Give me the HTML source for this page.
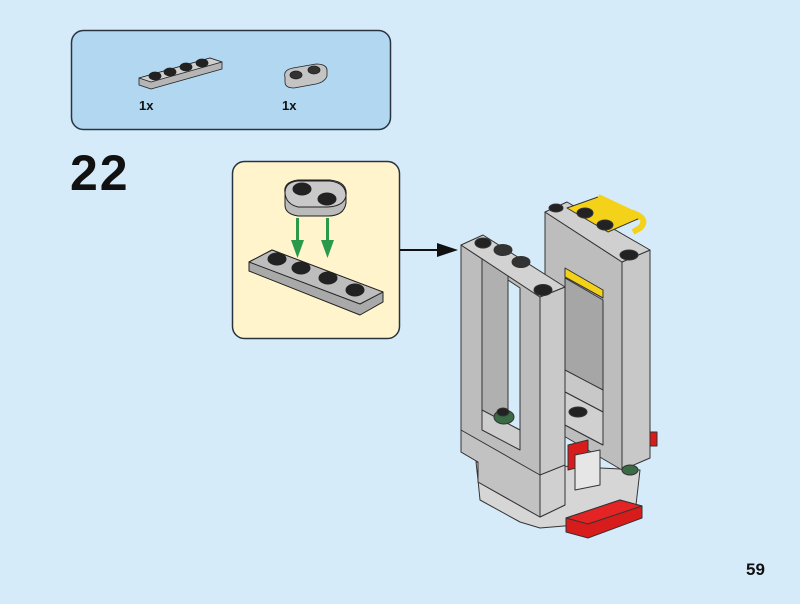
<!DOCTYPE html>
<html><head><meta charset="utf-8"><style>
html,body{margin:0;padding:0;background:#d6ebfa;}
svg{display:block}
text{font-family:"Liberation Sans",sans-serif;font-weight:bold;fill:#111}
</style></head><body>
<svg width="800" height="604" viewBox="0 0 800 604" xmlns="http://www.w3.org/2000/svg" stroke-linejoin="round">
<rect width="800" height="604" fill="#d6ebfa"/>
<!-- parts box -->
<rect x="71.5" y="30.5" width="319" height="99" rx="12" fill="#b2d7f1" stroke="#2a3440" stroke-width="1.5"/>
<g stroke="#222" stroke-width="0.8">
<polygon points="139,78 210,58 222,62 222,69 151,89 139,85" fill="#b5b5b5"/>
<polygon points="139,78 210,58 222,62 151,82" fill="#cfcfcf"/>
<g fill="#222"><ellipse cx="155" cy="76" rx="6" ry="4"/><ellipse cx="170" cy="72" rx="6" ry="4"/><ellipse cx="186" cy="67" rx="6" ry="4"/><ellipse cx="202" cy="63" rx="6" ry="4"/></g>
<path d="M285,77 Q283,70 293,68 L316,64 Q328,64 327,72 L327,76 Q325,82 316,84 L294,88 Q285,88 285,82 Z" fill="#c4c4c4"/>
<g fill="#333"><ellipse cx="296" cy="75" rx="6" ry="4"/><ellipse cx="314" cy="70" rx="6" ry="4"/></g>
</g>
<text x="139" y="110" font-size="13">1x</text>
<text x="282" y="110" font-size="13">1x</text>
<text x="70" y="190" font-size="50" letter-spacing="2">22</text>
<!-- callout -->
<rect x="232.5" y="161.5" width="167" height="177" rx="12" fill="#fff4cc" stroke="#2a3440" stroke-width="1.5"/>
<line x1="400" y1="250" x2="440" y2="250" stroke="#111" stroke-width="2"/>
<polygon points="437,243 458,250 437,257" fill="#111"/>
<g stroke="#222" stroke-width="1">
<path d="M285,193 Q283,182 298,180 L330,180 Q348,182 346,196 L346,203 Q344,216 328,216 L298,216 Q285,214 285,205 Z" fill="#bbb"/>
<path d="M285,193 Q285,182 298,181 L330,181 Q346,183 346,196 Q344,206 328,207 L298,207 Q286,204 285,193 Z" fill="#c9c9c9"/>
<g fill="#222"><ellipse cx="302" cy="189" rx="9" ry="6"/><ellipse cx="327" cy="199" rx="9" ry="6"/></g>
<polygon points="249,262 272,250 383,292 383,302 360,315 249,271" fill="#a9a9a9"/>
<polygon points="249,262 272,250 383,292 360,304" fill="#bdbdbd"/>
<g fill="#222"><ellipse cx="277" cy="259" rx="9" ry="6"/><ellipse cx="301" cy="268" rx="9" ry="6"/><ellipse cx="328" cy="278" rx="9" ry="6"/><ellipse cx="355" cy="290" rx="9" ry="6"/></g>
</g>
<g fill="#2a9a4a"><rect x="296" y="218" width="3" height="30"/><polygon points="291,240 304,240 297.5,258"/>
<rect x="326" y="218" width="3" height="30"/><polygon points="321,240 334,240 327.5,258"/></g>
<!-- main model -->
<g stroke="#333" stroke-width="1">
<polygon points="476,462 640,470 636,505 612,522 540,528 520,522 480,500 478,480" fill="#d6d6d6"/>
<rect x="645" y="432" width="12" height="14" fill="#d81b1b"/>
<polygon points="545,212 622,262 622,470 545,425" fill="#bdbdbd"/>
<polygon points="565,278 603,300 603,445 565,425" fill="#a6a6a6"/>
<polygon points="565,268 603,290 603,298 565,277" fill="#f5d21a"/>
<polygon points="565,370 603,390 603,412 565,392" fill="#c8c8c8"/>
<polygon points="565,392 603,412 603,445 565,425" fill="#d0d0d0"/>
<ellipse cx="578" cy="412" rx="9" ry="5" fill="#222"/>
<polygon points="622,262 650,250 650,458 622,470" fill="#c8c8c8"/>
<polygon points="545,212 567,202 650,250 622,262" fill="#d0d0d0"/>
<polygon points="567,208 598,197 640,218 608,232" fill="#f5d21a"/>
<path d="M598,197 L630,212 Q650,218 640,228 L633,232" fill="none" stroke="#f5d21a" stroke-width="6"/>
<ellipse cx="585" cy="213" rx="8" ry="5" fill="#222"/>
<ellipse cx="605" cy="225" rx="8" ry="5" fill="#222"/>
<ellipse cx="629" cy="255" rx="9" ry="5" fill="#222"/>
<ellipse cx="556" cy="208" rx="7" ry="4" fill="#222"/>
<polygon points="568,445 588,440 588,465 568,470" fill="#d81b1b"/>
<polygon points="575,455 600,450 600,485 575,490" fill="#e6e6e6"/>
<ellipse cx="630" cy="470" rx="8" ry="5" fill="#3b6b45"/>
<polygon points="461,245 540,297 540,517 478,482 478,462 461,452" fill="#bdbdbd"/>
<polygon points="482,258 508,275 508,425 482,410" fill="#b0b0b0"/>
<polygon points="508,280 520,288 520,430 508,424" fill="#d6ebfa"/>
<polygon points="482,410 520,430 520,450 482,430" fill="#cdcdcd"/>
<polygon points="461,430 540,475 540,517 478,482 478,462 461,452" fill="#c2c2c2"/>
<polygon points="540,297 565,287 565,505 540,517" fill="#c9c9c9"/>
<polygon points="540,475 565,465 565,505 540,517" fill="#d0d0d0"/>
<polygon points="461,245 483,235 565,287 540,297" fill="#d2d2d2"/>
<ellipse cx="483" cy="243" rx="8" ry="5" fill="#222"/>
<ellipse cx="503" cy="250" rx="9" ry="5.5" fill="#333"/>
<ellipse cx="521" cy="262" rx="9" ry="5.5" fill="#333"/>
<ellipse cx="543" cy="290" rx="9" ry="5.5" fill="#222"/>
<ellipse cx="504" cy="417" rx="10" ry="7" fill="#3b6b45"/>
<ellipse cx="503" cy="412" rx="6" ry="4" fill="#222"/>
<polygon points="566,518 620,500 642,506 642,518 588,538 566,532" fill="#d81b1b"/>
<polygon points="566,518 620,500 642,506 588,524" fill="#e42424"/>
</g>
<text x="746" y="575" font-size="17">59</text>
</svg>
</body></html>
